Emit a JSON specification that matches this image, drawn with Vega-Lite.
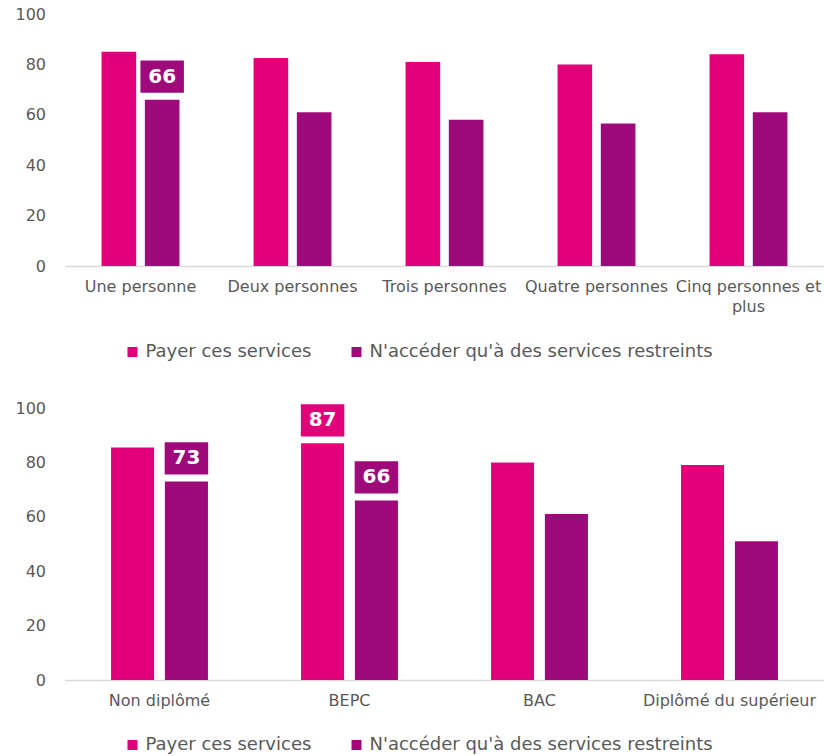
{
  "$schema": "https://vega.github.io/schema/vega-lite/v6.json",
  "padding": {"left": 14.5, "top": 6, "right": 0, "bottom": 0},
  "config": {
    "font": "DejaVu Sans",
    "view": {"stroke": null},
    "axis": {"labelColor": "#595959", "title": null, "ticks": false, "grid": false},
    "legend": {"padding": 0}
  },
  "datasets": {
    "foyer": [
      {"cat": "Une personne", "serie": "Payer ces services", "value": 85, "hl": false},
      {"cat": "Une personne", "serie": "N'accéder qu'à des services restreints", "value": 66, "hl": true},
      {"cat": "Deux personnes", "serie": "Payer ces services", "value": 82.5, "hl": false},
      {"cat": "Deux personnes", "serie": "N'accéder qu'à des services restreints", "value": 61, "hl": false},
      {"cat": "Trois personnes", "serie": "Payer ces services", "value": 81, "hl": false},
      {"cat": "Trois personnes", "serie": "N'accéder qu'à des services restreints", "value": 58, "hl": false},
      {"cat": "Quatre personnes", "serie": "Payer ces services", "value": 80, "hl": false},
      {"cat": "Quatre personnes", "serie": "N'accéder qu'à des services restreints", "value": 56.5, "hl": false},
      {"cat": "Cinq personnes et plus", "serie": "Payer ces services", "value": 84, "hl": false},
      {"cat": "Cinq personnes et plus", "serie": "N'accéder qu'à des services restreints", "value": 61, "hl": false}
    ],
    "diplome": [
      {"cat": "Non diplômé", "serie": "Payer ces services", "value": 85.5, "hl": false},
      {"cat": "Non diplômé", "serie": "N'accéder qu'à des services restreints", "value": 73, "hl": true},
      {"cat": "BEPC", "serie": "Payer ces services", "value": 87, "hl": true},
      {"cat": "BEPC", "serie": "N'accéder qu'à des services restreints", "value": 66, "hl": true},
      {"cat": "BAC", "serie": "Payer ces services", "value": 80, "hl": false},
      {"cat": "BAC", "serie": "N'accéder qu'à des services restreints", "value": 61, "hl": false},
      {"cat": "Diplômé du supérieur", "serie": "Payer ces services", "value": 79, "hl": false},
      {"cat": "Diplômé du supérieur", "serie": "N'accéder qu'à des services restreints", "value": 51, "hl": false}
    ]
  },
  "spacing": 39,
  "resolve": {"scale": {"color": "independent", "xOffset": "independent"}, "legend": {"color": "independent"}},
  "vconcat": [
    {
      "width": 760,
      "height": 252,
      "data": {"name": "foyer"},
      "encoding": {
        "x": {"field": "cat", "type": "nominal", "sort": null,
          "scale": {"paddingInner": 0.4875, "paddingOuter": 0.244},
          "axis": {"labelAngle": 0, "labelFontSize": 16, "labelPadding": 12, "labelLimit": 400, "labelLineHeight": 20,
            "domainColor": "#D9D9D9", "domainWidth": 1.5,
            "labelExpr": "datum.label == 'Cinq personnes et plus' ? ['Cinq personnes et', 'plus'] : datum.label"}},
        "xOffset": {"field": "serie", "type": "nominal", "sort": ["Payer ces services", "N'accéder qu'à des services restreints"],
          "scale": {"paddingInner": 0.2, "paddingOuter": 0}},
        "y": {"field": "value", "type": "quantitative", "scale": {"domain": [0, 100]},
          "axis": {"values": [0, 20, 40, 60, 80, 100], "domain": false, "labelFontSize": 16, "labelPadding": 19}},
        "color": {"field": "serie", "type": "nominal",
          "scale": {"domain": ["Payer ces services", "N'accéder qu'à des services restreints"], "range": ["#E2007A", "#9E0A7A"]},
          "legend": {"orient": "none", "legendX": 59, "legendY": 329, "direction": "horizontal", "title": null,
            "symbolType": "square", "symbolSize": 100, "symbolStrokeWidth": 0, "labelFontSize": 18, "labelColor": "#595959",
            "labelLimit": 600, "columnPadding": 36, "labelOffset": 4}}
      },
      "layer": [
        {"mark": {"type": "bar"}},
        {"transform": [{"filter": "datum.hl"}],
          "mark": {"type": "point", "shape": "M-1,-0.742L1,-0.742L1,0.742L-1,0.742Z", "size": 1892, "filled": true, "opacity": 1, "strokeWidth": 0, "yOffset": -23}},
        {"transform": [{"filter": "datum.hl"}],
          "mark": {"type": "text", "fontWeight": "bold", "fontSize": 20, "yOffset": -23, "baseline": "middle", "align": "center"},
          "encoding": {"text": {"field": "value", "type": "quantitative", "format": ".0f"}, "color": {"value": "white"}}}
      ]
    },
    {
      "width": 760,
      "height": 272,
      "data": {"name": "diplome"},
      "encoding": {
        "x": {"field": "cat", "type": "nominal", "sort": null,
          "scale": {"paddingInner": 0.49, "paddingOuter": 0.245},
          "axis": {"labelAngle": 0, "labelFontSize": 16, "labelPadding": 12, "labelLimit": 400,
            "domainColor": "#D9D9D9", "domainWidth": 1.5}},
        "xOffset": {"field": "serie", "type": "nominal", "sort": ["Payer ces services", "N'accéder qu'à des services restreints"],
          "scale": {"paddingInner": 0.2, "paddingOuter": 0}},
        "y": {"field": "value", "type": "quantitative", "scale": {"domain": [0, 100]},
          "axis": {"values": [0, 20, 40, 60, 80, 100], "domain": false, "labelFontSize": 16, "labelPadding": 19}},
        "color": {"field": "serie", "type": "nominal",
          "scale": {"domain": ["Payer ces services", "N'accéder qu'à des services restreints"], "range": ["#E2007A", "#9E0A7A"]},
          "legend": {"orient": "none", "legendX": 59, "legendY": 328, "direction": "horizontal", "title": null,
            "symbolType": "square", "symbolSize": 100, "symbolStrokeWidth": 0, "labelFontSize": 18, "labelColor": "#595959",
            "labelLimit": 600, "columnPadding": 36, "labelOffset": 4}}
      },
      "layer": [
        {"mark": {"type": "bar"}},
        {"transform": [{"filter": "datum.hl"}],
          "mark": {"type": "point", "shape": "M-1,-0.742L1,-0.742L1,0.742L-1,0.742Z", "size": 1892, "filled": true, "opacity": 1, "strokeWidth": 0, "yOffset": -23}},
        {"transform": [{"filter": "datum.hl"}],
          "mark": {"type": "text", "fontWeight": "bold", "fontSize": 20, "yOffset": -23, "baseline": "middle", "align": "center"},
          "encoding": {"text": {"field": "value", "type": "quantitative", "format": ".0f"}, "color": {"value": "white"}}}
      ]
    }
  ]
}
